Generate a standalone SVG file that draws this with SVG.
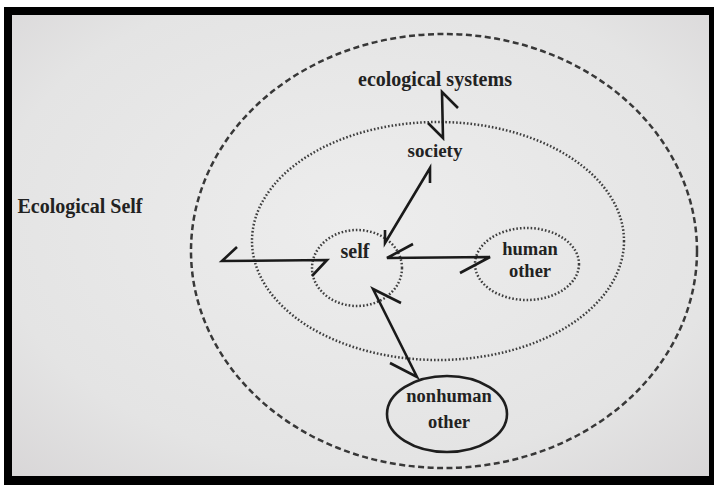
<svg xmlns="http://www.w3.org/2000/svg" width="714" height="485" viewBox="0 0 714 485">
  <defs>
    <radialGradient id="page" cx="0.5" cy="0.45" r="0.75">
      <stop offset="0" stop-color="#ededed"/>
      <stop offset="0.7" stop-color="#e4e4e4"/>
      <stop offset="1" stop-color="#d8d6d7"/>
    </radialGradient>
  </defs>
  <style>
    .lbl { font-family: "Liberation Serif", "Times New Roman", serif; font-weight: bold; fill: #222222; text-anchor: middle; }
    .dash { fill: none; stroke: #383838; stroke-width: 2.5; stroke-dasharray: 6 3.5; }
    .dot { fill: none; stroke: #3e3e3e; stroke-width: 2.5; stroke-dasharray: 1.6 2; }
    .solid { fill: none; stroke: #1e1e1e; stroke-width: 2.6; }
    .conn { fill: none; stroke: #1a1a1a; stroke-width: 2.6; stroke-linejoin: miter; stroke-linecap: butt; }
  </style>
  <rect x="0" y="0" width="714" height="485" fill="#ffffff"/>
  <rect x="4" y="7" width="710" height="478" fill="#000"/>
  <rect x="12" y="15" width="697" height="461" fill="url(#page)"/>

  <g id="ecological-self">
    <text class="lbl" x="80" y="213" font-size="20">Ecological Self</text>
  </g>

  <g id="ecological-systems">
    <ellipse class="dash" cx="444" cy="251" rx="253" ry="217"/>
    <text class="lbl" x="435" y="86" font-size="20">ecological systems</text>
  </g>

  <g id="society">
    <ellipse class="dot" cx="438" cy="241" rx="186" ry="119"/>
    <text class="lbl" x="435" y="157" font-size="19">society</text>
  </g>

  <g id="self">
    <ellipse class="dot" cx="357" cy="268" rx="45" ry="38"/>
    <text class="lbl" x="355" y="258" font-size="20">self</text>
  </g>

  <g id="human-other">
    <ellipse class="dot" cx="527" cy="264" rx="52" ry="36"/>
    <text class="lbl" x="530" y="255" font-size="18.5">human</text>
    <text class="lbl" x="530" y="277" font-size="18.5">other</text>
  </g>

  <g id="nonhuman-other">
    <ellipse class="solid" cx="447" cy="414" rx="60" ry="38"/>
    <text class="lbl" x="449" y="402" font-size="18.5">nonhuman</text>
    <text class="lbl" x="449" y="428" font-size="18.5">other</text>
  </g>

  <g id="connectors">
    <path class="conn" d="M458,108 L442,92 L443,138 L428,123"/>
    <path class="conn" d="M430,183 L430,168 L385,243 L385,230"/>
    <path class="conn" d="M237,247 L222,261 L327,260 L312,276"/>
    <path class="conn" d="M413,244 L387,258 L490,257 L460,273"/>
    <path class="conn" d="M401,303 L373,289 L417,377 L390,363"/>
  </g>
</svg>
